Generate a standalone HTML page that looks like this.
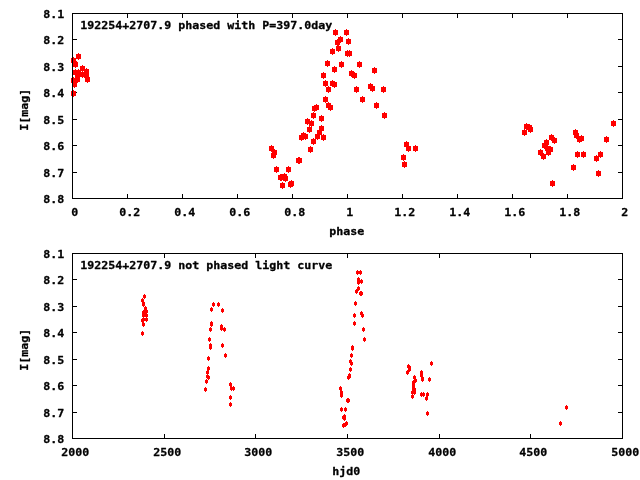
<!DOCTYPE html>
<html lang="en"><head><meta charset="utf-8"><title>192254+2707.9 light curve</title>
<style>html,body{margin:0;padding:0;background:#fff}svg{display:block}text{font-family:"DejaVu Sans Mono","Liberation Mono",monospace;font-weight:bold;font-size:11.63px;fill:#000;stroke:#000;stroke-width:0.3px;stroke-linejoin:round}</style></head><body>
<svg width="640" height="480" viewBox="0 0 640 480">
<rect width="640" height="480" fill="#fff"/>
<defs><path id="a" d="M-2-2h2v-1h1v1h2v5h-2v1h-1v-1h-2z"/><path id="b" d="M-1-1h1v-1h1v1h1v3h-1v1h-1v-1h-1z"/></defs>
<g fill="#000" shape-rendering="crispEdges">
<rect x="73" y="39" width="4" height="1"/>
<rect x="618" y="39" width="4" height="1"/>
<rect x="73" y="66" width="4" height="1"/>
<rect x="618" y="66" width="4" height="1"/>
<rect x="73" y="92" width="4" height="1"/>
<rect x="618" y="92" width="4" height="1"/>
<rect x="73" y="119" width="4" height="1"/>
<rect x="618" y="119" width="4" height="1"/>
<rect x="73" y="145" width="4" height="1"/>
<rect x="618" y="145" width="4" height="1"/>
<rect x="73" y="172" width="4" height="1"/>
<rect x="618" y="172" width="4" height="1"/>
<rect x="127" y="14" width="1" height="4"/>
<rect x="127" y="194" width="1" height="4"/>
<rect x="182" y="14" width="1" height="4"/>
<rect x="182" y="194" width="1" height="4"/>
<rect x="237" y="14" width="1" height="4"/>
<rect x="237" y="194" width="1" height="4"/>
<rect x="292" y="14" width="1" height="4"/>
<rect x="292" y="194" width="1" height="4"/>
<rect x="347" y="14" width="1" height="4"/>
<rect x="347" y="194" width="1" height="4"/>
<rect x="402" y="14" width="1" height="4"/>
<rect x="402" y="194" width="1" height="4"/>
<rect x="457" y="14" width="1" height="4"/>
<rect x="457" y="194" width="1" height="4"/>
<rect x="512" y="14" width="1" height="4"/>
<rect x="512" y="194" width="1" height="4"/>
<rect x="567" y="14" width="1" height="4"/>
<rect x="567" y="194" width="1" height="4"/>
<rect x="73" y="279" width="4" height="1"/>
<rect x="618" y="279" width="4" height="1"/>
<rect x="73" y="306" width="4" height="1"/>
<rect x="618" y="306" width="4" height="1"/>
<rect x="73" y="332" width="4" height="1"/>
<rect x="618" y="332" width="4" height="1"/>
<rect x="73" y="359" width="4" height="1"/>
<rect x="618" y="359" width="4" height="1"/>
<rect x="73" y="385" width="4" height="1"/>
<rect x="618" y="385" width="4" height="1"/>
<rect x="73" y="412" width="4" height="1"/>
<rect x="618" y="412" width="4" height="1"/>
<rect x="164" y="254" width="1" height="4"/>
<rect x="164" y="434" width="1" height="4"/>
<rect x="255" y="254" width="1" height="4"/>
<rect x="255" y="434" width="1" height="4"/>
<rect x="347" y="254" width="1" height="4"/>
<rect x="347" y="434" width="1" height="4"/>
<rect x="439" y="254" width="1" height="4"/>
<rect x="439" y="434" width="1" height="4"/>
<rect x="530" y="254" width="1" height="4"/>
<rect x="530" y="434" width="1" height="4"/>
</g>
<g fill="#f00" shape-rendering="crispEdges">
<use href="#a" x="78" y="56"/>
<use href="#a" x="73" y="60"/>
<use href="#a" x="74" y="63"/>
<use href="#a" x="75" y="64"/>
<use href="#a" x="82" y="68"/>
<use href="#a" x="86" y="71"/>
<use href="#a" x="75" y="72"/>
<use href="#a" x="78" y="72"/>
<use href="#a" x="82" y="74"/>
<use href="#a" x="84" y="74"/>
<use href="#a" x="86" y="75"/>
<use href="#a" x="77" y="75"/>
<use href="#a" x="87" y="79"/>
<use href="#a" x="77" y="79"/>
<use href="#a" x="73" y="80"/>
<use href="#a" x="74" y="84"/>
<use href="#a" x="73" y="93"/>
<use href="#a" x="310" y="149"/>
<use href="#a" x="313" y="141"/>
<use href="#a" x="317" y="136"/>
<use href="#a" x="323" y="137"/>
<use href="#a" x="319" y="132"/>
<use href="#a" x="321" y="128"/>
<use href="#a" x="321" y="118"/>
<use href="#a" x="328" y="105"/>
<use href="#a" x="330" y="107"/>
<use href="#a" x="325" y="99"/>
<use href="#a" x="328" y="89"/>
<use href="#a" x="332" y="83"/>
<use href="#a" x="334" y="84"/>
<use href="#a" x="334" y="69"/>
<use href="#a" x="341" y="64"/>
<use href="#a" x="359" y="64"/>
<use href="#a" x="374" y="70"/>
<use href="#a" x="370" y="86"/>
<use href="#a" x="372" y="88"/>
<use href="#a" x="383" y="89"/>
<use href="#a" x="376" y="105"/>
<use href="#a" x="384" y="115"/>
<use href="#a" x="406" y="144"/>
<use href="#a" x="408" y="148"/>
<use href="#a" x="415" y="148"/>
<use href="#a" x="403" y="157"/>
<use href="#a" x="404" y="164"/>
<use href="#a" x="271" y="148"/>
<use href="#a" x="274" y="152"/>
<use href="#a" x="273" y="155"/>
<use href="#a" x="276" y="169"/>
<use href="#a" x="288" y="169"/>
<use href="#a" x="280" y="177"/>
<use href="#a" x="281" y="177"/>
<use href="#a" x="284" y="176"/>
<use href="#a" x="285" y="178"/>
<use href="#a" x="282" y="185"/>
<use href="#a" x="291" y="183"/>
<use href="#a" x="290" y="184"/>
<use href="#a" x="298" y="160"/>
<use href="#a" x="299" y="160"/>
<use href="#a" x="303" y="135"/>
<use href="#a" x="301" y="137"/>
<use href="#a" x="305" y="136"/>
<use href="#a" x="309" y="129"/>
<use href="#a" x="316" y="107"/>
<use href="#a" x="314" y="108"/>
<use href="#a" x="313" y="115"/>
<use href="#a" x="307" y="121"/>
<use href="#a" x="311" y="123"/>
<use href="#a" x="327" y="63"/>
<use href="#a" x="323" y="75"/>
<use href="#a" x="325" y="83"/>
<use href="#a" x="351" y="73"/>
<use href="#a" x="354" y="75"/>
<use href="#a" x="335" y="32"/>
<use href="#a" x="346" y="32"/>
<use href="#a" x="340" y="39"/>
<use href="#a" x="337" y="42"/>
<use href="#a" x="338" y="48"/>
<use href="#a" x="332" y="51"/>
<use href="#a" x="348" y="41"/>
<use href="#a" x="347" y="53"/>
<use href="#a" x="349" y="53"/>
<use href="#a" x="356" y="89"/>
<use href="#a" x="362" y="99"/>
<use href="#a" x="526" y="126"/>
<use href="#a" x="529" y="127"/>
<use href="#a" x="530" y="129"/>
<use href="#a" x="524" y="132"/>
<use href="#a" x="551" y="137"/>
<use href="#a" x="554" y="140"/>
<use href="#a" x="546" y="142"/>
<use href="#a" x="544" y="145"/>
<use href="#a" x="547" y="148"/>
<use href="#a" x="550" y="149"/>
<use href="#a" x="548" y="152"/>
<use href="#a" x="540" y="152"/>
<use href="#a" x="543" y="156"/>
<use href="#a" x="613" y="123"/>
<use href="#a" x="606" y="139"/>
<use href="#a" x="577" y="154"/>
<use href="#a" x="583" y="154"/>
<use href="#a" x="600" y="154"/>
<use href="#a" x="596" y="158"/>
<use href="#a" x="575" y="132"/>
<use href="#a" x="576" y="135"/>
<use href="#a" x="579" y="139"/>
<use href="#a" x="581" y="138"/>
<use href="#a" x="598" y="173"/>
<use href="#a" x="552" y="183"/>
<use href="#a" x="573" y="167"/>
<use href="#b" x="144" y="296"/>
<use href="#b" x="142" y="300"/>
<use href="#b" x="143" y="303"/>
<use href="#b" x="143" y="304"/>
<use href="#b" x="145" y="308"/>
<use href="#b" x="146" y="311"/>
<use href="#b" x="143" y="312"/>
<use href="#b" x="144" y="312"/>
<use href="#b" x="145" y="314"/>
<use href="#b" x="145" y="314"/>
<use href="#b" x="146" y="315"/>
<use href="#b" x="143" y="315"/>
<use href="#b" x="146" y="319"/>
<use href="#b" x="143" y="319"/>
<use href="#b" x="142" y="320"/>
<use href="#b" x="143" y="324"/>
<use href="#b" x="142" y="333"/>
<use href="#b" x="205" y="389"/>
<use href="#b" x="206" y="381"/>
<use href="#b" x="207" y="376"/>
<use href="#b" x="208" y="377"/>
<use href="#b" x="207" y="372"/>
<use href="#b" x="208" y="368"/>
<use href="#b" x="208" y="358"/>
<use href="#b" x="210" y="345"/>
<use href="#b" x="210" y="347"/>
<use href="#b" x="209" y="339"/>
<use href="#b" x="210" y="329"/>
<use href="#b" x="211" y="323"/>
<use href="#b" x="211" y="324"/>
<use href="#b" x="211" y="309"/>
<use href="#b" x="213" y="304"/>
<use href="#b" x="218" y="304"/>
<use href="#b" x="222" y="310"/>
<use href="#b" x="221" y="326"/>
<use href="#b" x="221" y="328"/>
<use href="#b" x="224" y="329"/>
<use href="#b" x="222" y="345"/>
<use href="#b" x="225" y="355"/>
<use href="#b" x="230" y="384"/>
<use href="#b" x="231" y="388"/>
<use href="#b" x="233" y="388"/>
<use href="#b" x="230" y="397"/>
<use href="#b" x="230" y="404"/>
<use href="#b" x="340" y="388"/>
<use href="#b" x="341" y="392"/>
<use href="#b" x="341" y="395"/>
<use href="#b" x="341" y="409"/>
<use href="#b" x="345" y="409"/>
<use href="#b" x="343" y="417"/>
<use href="#b" x="343" y="417"/>
<use href="#b" x="344" y="416"/>
<use href="#b" x="344" y="418"/>
<use href="#b" x="343" y="425"/>
<use href="#b" x="346" y="423"/>
<use href="#b" x="345" y="424"/>
<use href="#b" x="347" y="400"/>
<use href="#b" x="348" y="400"/>
<use href="#b" x="349" y="375"/>
<use href="#b" x="348" y="377"/>
<use href="#b" x="349" y="376"/>
<use href="#b" x="350" y="369"/>
<use href="#b" x="352" y="347"/>
<use href="#b" x="352" y="348"/>
<use href="#b" x="351" y="355"/>
<use href="#b" x="350" y="361"/>
<use href="#b" x="351" y="363"/>
<use href="#b" x="355" y="303"/>
<use href="#b" x="354" y="315"/>
<use href="#b" x="354" y="323"/>
<use href="#b" x="361" y="313"/>
<use href="#b" x="362" y="315"/>
<use href="#b" x="357" y="272"/>
<use href="#b" x="360" y="272"/>
<use href="#b" x="358" y="279"/>
<use href="#b" x="358" y="282"/>
<use href="#b" x="358" y="288"/>
<use href="#b" x="356" y="291"/>
<use href="#b" x="361" y="281"/>
<use href="#b" x="360" y="293"/>
<use href="#b" x="361" y="293"/>
<use href="#b" x="363" y="329"/>
<use href="#b" x="364" y="339"/>
<use href="#b" x="408" y="366"/>
<use href="#b" x="409" y="367"/>
<use href="#b" x="409" y="369"/>
<use href="#b" x="407" y="372"/>
<use href="#b" x="414" y="377"/>
<use href="#b" x="415" y="380"/>
<use href="#b" x="413" y="382"/>
<use href="#b" x="413" y="385"/>
<use href="#b" x="413" y="388"/>
<use href="#b" x="414" y="389"/>
<use href="#b" x="414" y="392"/>
<use href="#b" x="412" y="392"/>
<use href="#b" x="412" y="396"/>
<use href="#b" x="431" y="363"/>
<use href="#b" x="429" y="379"/>
<use href="#b" x="421" y="394"/>
<use href="#b" x="423" y="394"/>
<use href="#b" x="427" y="394"/>
<use href="#b" x="426" y="398"/>
<use href="#b" x="421" y="372"/>
<use href="#b" x="421" y="375"/>
<use href="#b" x="422" y="379"/>
<use href="#b" x="422" y="378"/>
<use href="#b" x="427" y="413"/>
<use href="#b" x="560" y="423"/>
<use href="#b" x="566" y="407"/>
</g>
<g fill="#000" shape-rendering="crispEdges">
<rect x="72" y="13" width="551" height="1"/>
<rect x="72" y="198" width="551" height="1"/>
<rect x="72" y="13" width="1" height="186"/>
<rect x="622" y="13" width="1" height="186"/>
<rect x="72" y="253" width="551" height="1"/>
<rect x="72" y="438" width="551" height="1"/>
<rect x="72" y="253" width="1" height="186"/>
<rect x="622" y="253" width="1" height="186"/>
</g>
<g opacity="0.999">
<text transform="translate(43.3,18) scale(1,0.944)" textLength="21" lengthAdjust="spacingAndGlyphs">8.1</text>
<text transform="translate(43.3,44) scale(1,0.944)" textLength="21" lengthAdjust="spacingAndGlyphs">8.2</text>
<text transform="translate(43.3,71) scale(1,0.944)" textLength="21" lengthAdjust="spacingAndGlyphs">8.3</text>
<text transform="translate(43.3,97) scale(1,0.944)" textLength="21" lengthAdjust="spacingAndGlyphs">8.4</text>
<text transform="translate(43.3,124) scale(1,0.944)" textLength="21" lengthAdjust="spacingAndGlyphs">8.5</text>
<text transform="translate(43.3,150) scale(1,0.944)" textLength="21" lengthAdjust="spacingAndGlyphs">8.6</text>
<text transform="translate(43.3,177) scale(1,0.944)" textLength="21" lengthAdjust="spacingAndGlyphs">8.7</text>
<text transform="translate(43.3,203) scale(1,0.944)" textLength="21" lengthAdjust="spacingAndGlyphs">8.8</text>
<text transform="translate(43.3,258) scale(1,0.944)" textLength="21" lengthAdjust="spacingAndGlyphs">8.1</text>
<text transform="translate(43.3,284) scale(1,0.944)" textLength="21" lengthAdjust="spacingAndGlyphs">8.2</text>
<text transform="translate(43.3,311) scale(1,0.944)" textLength="21" lengthAdjust="spacingAndGlyphs">8.3</text>
<text transform="translate(43.3,337) scale(1,0.944)" textLength="21" lengthAdjust="spacingAndGlyphs">8.4</text>
<text transform="translate(43.3,364) scale(1,0.944)" textLength="21" lengthAdjust="spacingAndGlyphs">8.5</text>
<text transform="translate(43.3,390) scale(1,0.944)" textLength="21" lengthAdjust="spacingAndGlyphs">8.6</text>
<text transform="translate(43.3,417) scale(1,0.944)" textLength="21" lengthAdjust="spacingAndGlyphs">8.7</text>
<text transform="translate(43.3,443) scale(1,0.944)" textLength="21" lengthAdjust="spacingAndGlyphs">8.8</text>
<text transform="translate(71.3,216) scale(1,0.944)" textLength="7" lengthAdjust="spacingAndGlyphs">0</text>
<text transform="translate(119.3,216) scale(1,0.944)" textLength="21" lengthAdjust="spacingAndGlyphs">0.2</text>
<text transform="translate(174.3,216) scale(1,0.944)" textLength="21" lengthAdjust="spacingAndGlyphs">0.4</text>
<text transform="translate(229.3,216) scale(1,0.944)" textLength="21" lengthAdjust="spacingAndGlyphs">0.6</text>
<text transform="translate(284.3,216) scale(1,0.944)" textLength="21" lengthAdjust="spacingAndGlyphs">0.8</text>
<text transform="translate(346.3,216) scale(1,0.944)" textLength="7" lengthAdjust="spacingAndGlyphs">1</text>
<text transform="translate(394.3,216) scale(1,0.944)" textLength="21" lengthAdjust="spacingAndGlyphs">1.2</text>
<text transform="translate(449.3,216) scale(1,0.944)" textLength="21" lengthAdjust="spacingAndGlyphs">1.4</text>
<text transform="translate(504.3,216) scale(1,0.944)" textLength="21" lengthAdjust="spacingAndGlyphs">1.6</text>
<text transform="translate(559.3,216) scale(1,0.944)" textLength="21" lengthAdjust="spacingAndGlyphs">1.8</text>
<text transform="translate(621.3,216) scale(1,0.944)" textLength="7" lengthAdjust="spacingAndGlyphs">2</text>
<text transform="translate(61.3,456) scale(1,0.944)" textLength="28" lengthAdjust="spacingAndGlyphs">2000</text>
<text transform="translate(153.3,456) scale(1,0.944)" textLength="28" lengthAdjust="spacingAndGlyphs">2500</text>
<text transform="translate(244.3,456) scale(1,0.944)" textLength="28" lengthAdjust="spacingAndGlyphs">3000</text>
<text transform="translate(336.3,456) scale(1,0.944)" textLength="28" lengthAdjust="spacingAndGlyphs">3500</text>
<text transform="translate(428.3,456) scale(1,0.944)" textLength="28" lengthAdjust="spacingAndGlyphs">4000</text>
<text transform="translate(519.3,456) scale(1,0.944)" textLength="28" lengthAdjust="spacingAndGlyphs">4500</text>
<text transform="translate(611.3,456) scale(1,0.944)" textLength="28" lengthAdjust="spacingAndGlyphs">5000</text>
<text transform="translate(80.3,29) scale(1,0.944)" textLength="252" lengthAdjust="spacingAndGlyphs">192254+2707.9 phased with P=397.0day</text>
<text transform="translate(80.3,269) scale(1,0.944)" textLength="252" lengthAdjust="spacingAndGlyphs">192254+2707.9 not phased light curve</text>
<text transform="translate(329.3,235) scale(1,0.944)" textLength="35" lengthAdjust="spacingAndGlyphs">phase</text>
<text transform="translate(332.3,475) scale(1,0.944)" textLength="28" lengthAdjust="spacingAndGlyphs">hjd0</text>
<g transform="translate(19.5,130) rotate(-90)"><text transform="translate(-0.7,8) scale(1,0.944)" textLength="42" lengthAdjust="spacingAndGlyphs">I[mag]</text></g>
<g transform="translate(19.5,370) rotate(-90)"><text transform="translate(-0.7,8) scale(1,0.944)" textLength="42" lengthAdjust="spacingAndGlyphs">I[mag]</text></g>
</g>
</svg></body></html>
